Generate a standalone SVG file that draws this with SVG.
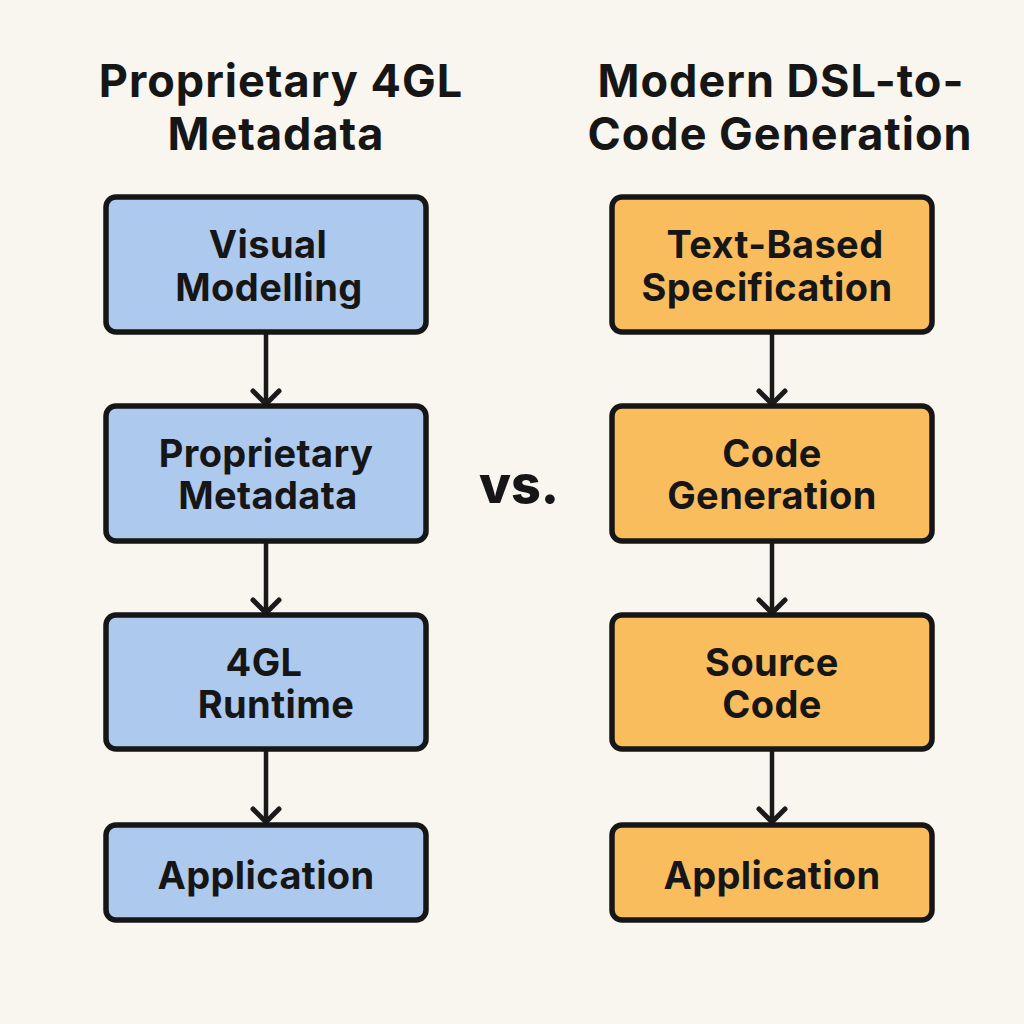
<svg xmlns="http://www.w3.org/2000/svg" width="1024" height="1024" viewBox="0 0 1024 1024">
<defs>
<style>
.title{font-family:Inter,"Liberation Sans",sans-serif;font-weight:700;font-size:45px;letter-spacing:1px;fill:#161616;text-anchor:middle}
.lbl{font-family:Inter,"Liberation Sans",sans-serif;font-weight:700;font-size:38px;letter-spacing:0.4px;fill:#161616;text-anchor:middle}
.blue{fill:#aec9ee;stroke:#161616;stroke-width:5.5}
.orange{fill:#fabd5e;stroke:#161616;stroke-width:5.5}
.conn{stroke:#1a1a1a;stroke-width:4.5;fill:none}
.head{stroke:#1a1a1a;stroke-width:5;fill:none;stroke-linecap:round;stroke-linejoin:round}
</style>
</defs>
<rect width="1024" height="1024" fill="#f9f5ef"/>
<text class="title" x="281" y="97">Proprietary 4GL</text>
<text class="title" x="276" y="150">Metadata</text>
<text class="title" x="781" y="97">Modern DSL-to-</text>
<text class="title" x="780" y="150">Code Generation</text>
<text x="519" y="503" font-family="Inter,'Liberation Sans',sans-serif" font-weight="800" font-size="52" fill="#161616" text-anchor="middle">vs.</text>
<g id="connectors">
<path class="conn" d="M266,334 V402"/><path class="head" d="M253,391 L266,404 L279,391"/>
<path class="conn" d="M266,543 V611"/><path class="head" d="M253,600 L266,613 L279,600"/>
<path class="conn" d="M266,751 V820"/><path class="head" d="M253,809 L266,822 L279,809"/>
<path class="conn" d="M772,334 V402"/><path class="head" d="M759,391 L772,404 L785,391"/>
<path class="conn" d="M772,543 V611"/><path class="head" d="M759,600 L772,613 L785,600"/>
<path class="conn" d="M772,751 V820"/><path class="head" d="M759,809 L772,822 L785,809"/>
</g>
<g id="l1"><rect class="blue" x="106" y="197" width="320" height="135" rx="10"/><text class="lbl" x="268" y="258">Visual</text><text class="lbl" x="269" y="301">Modelling</text></g>
<g id="l2"><rect class="blue" x="106" y="406" width="320" height="135" rx="10"/><text class="lbl" x="266" y="467">Proprietary</text><text class="lbl" x="268" y="509">Metadata</text></g>
<g id="l3"><rect class="blue" x="106" y="615" width="320" height="134" rx="10"/><text class="lbl" x="264" y="676">4GL</text><text class="lbl" x="276" y="718">Runtime</text></g>
<g id="l4"><rect class="blue" x="106" y="825" width="320" height="95" rx="10"/><text class="lbl" x="266" y="889">Application</text></g>
<g id="r1"><rect class="orange" x="612" y="197" width="320" height="135" rx="10"/><text class="lbl" x="775" y="258">Text-Based</text><text class="lbl" x="767" y="301">Specification</text></g>
<g id="r2"><rect class="orange" x="612" y="406" width="320" height="135" rx="10"/><text class="lbl" x="772" y="467">Code</text><text class="lbl" x="772" y="509">Generation</text></g>
<g id="r3"><rect class="orange" x="612" y="615" width="320" height="134" rx="10"/><text class="lbl" x="772" y="676">Source</text><text class="lbl" x="772" y="718">Code</text></g>
<g id="r4"><rect class="orange" x="612" y="825" width="320" height="95" rx="10"/><text class="lbl" x="772" y="889">Application</text></g>
</svg>
